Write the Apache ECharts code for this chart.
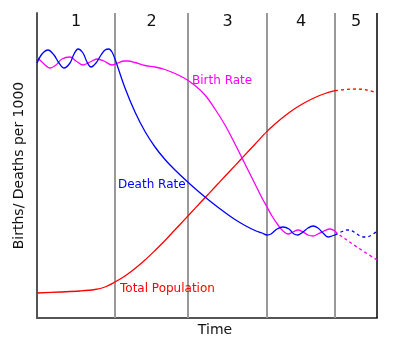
<!DOCTYPE html>
<html>
<head>
<meta charset="utf-8">
<script src="https://cdn.jsdelivr.net/npm/echarts@6/dist/echarts.min.js"></script>
<style>html,body{margin:0;padding:0;background:#fff}#c{width:400px;height:342px}</style>
</head>
<body>
<div id="c"></div>
<script>
// Stage boundaries along the time axis and their labels
var stageBounds = [0, 78, 151, 230, 298, 340];
var stageLabels = ['1', '2', '3', '4', '5'];

// Death rate (solid part, stages 1-4)
var deathRate = [[0,255],[5,264],[11,268],[17,263],[22,255],[27,250],[33,255],[37,264],[41,269],[46,265],[50,256],[54,251],[59,255],[64,263],[68,268],[72,269],[75,266],[78,259],[88,230],[98,206],[108,186.5],[118,171],[128,158.5],[138,148],[148,138.5],[158,129.5],[168,121],[178,113],[188,105.5],[198,98.5],[208,92.5],[218,87.5],[225,85],[230,83],[234,84],[240,89],[246,91],[252,89],[257,84],[261,83],[266,86],[271,90],[276,92],[281,90],[286,85],[291,81],[295,82],[298,83]];
// Death rate (projected, stage 5)
var deathRateProj = [[298,83],[304,86],[311,88],[317,86],[323,82],[328,81],[333,82],[339,86]];

// Birth rate (solid part)
var birthRate = [[0,261],[6,255],[13,250],[19,253],[25,259],[33,261],[39,257],[46,253],[53,256],[60,259],[67,257],[75,253],[81,255],[87,257],[91,257],[98,255.5],[108,252.5],[118,251],[128,248.5],[138,244.5],[148,239.5],[158,232.5],[168,223],[178,209],[188,193],[198,174],[208,154],[218,134],[225,120],[230,111],[235,102],[241,93],[246,87],[251,84],[256,86],[261,88],[266,86],[271,83],[276,82],[281,84],[287,87],[293,89],[298,87]];
// Birth rate (projected, stage 5)
var birthRateProj = [[298,87],[300,85],[320,71],[340,58]];

// Total population
var population = [[0,25],[23,26],[43,27],[58,28.5],[68,31],[78,36],[88,42],[98,49.5],[108,58],[118,67.5],[128,77.5],[138,88.2],[148,98.9],[158,109.6],[168,120.3],[178,131],[188,141.7],[198,152.4],[208,163.1],[218,173.8],[230,186.6],[238,194],[248,202.3],[258,209.5],[268,215.5],[278,220.5],[288,224.5],[298,227.3]];
// Total population (projected, stage 5)
var populationProj = [[298,227.3],[308,228.5],[320,229],[330,228],[340,225]];

var seriesNames = ['Death Rate', 'Birth Rate', 'Total Population'];
var FONT = 'DejaVu Sans';

var stageMarks = stageLabels.map(function (s, i) {
  return { coord: [(stageBounds[i] + stageBounds[i + 1]) / 2, 296], name: s };
});
var dividers = stageBounds.slice(1, 5).map(function (b) { return { xAxis: b }; });

function lineSeries(data, color, dashed, labelName, labelCoord) {
  var s = {
    type: 'line', data: data, smooth: 0.35, showSymbol: false, symbol: 'none',
    lineStyle: { color: color, width: 1.3, type: dashed ? [3, 3] : 'solid' },
    z: 5
  };
  if (labelName) {
    s.markPoint = {
      symbol: 'circle', symbolSize: 0, silent: true,
      data: [{ coord: labelCoord, name: labelName }],
      label: { show: true, formatter: '{b}', position: 'right', distance: 0, color: color, fontFamily: FONT, fontSize: 12 }
    };
  }
  return s;
}

var chart = echarts.init(document.getElementById('c'), null, { renderer: 'canvas' });
chart.setOption({
  animation: false,
  grid: { left: 37, right: 23, top: 13, bottom: 24, containLabel: false, outerBoundsMode: 'none' },
  xAxis: {
    type: 'value', min: 0, max: 340,
    name: 'Time', nameLocation: 'middle', nameGap: 5,
    nameTextStyle: { fontFamily: FONT, fontSize: 14, color: '#111', padding: [0, 0, 0, 16] },
    axisLine: { show: true, lineStyle: { color: '#555', width: 2 } },
    axisTick: { show: false }, axisLabel: { show: false }, splitLine: { show: false }
  },
  yAxis: {
    type: 'value', min: 0, max: 305,
    name: 'Births/ Deaths per 1000', nameLocation: 'middle', nameGap: 11,
    nameTextStyle: { fontFamily: FONT, fontSize: 14, color: '#111' },
    axisLine: { show: true, lineStyle: { color: '#555', width: 2 } },
    axisTick: { show: false }, axisLabel: { show: false }, splitLine: { show: false }
  },
  series: [
    {
      type: 'line', data: [], silent: true, z: 2,
      markLine: {
        symbol: ['none', 'none'], silent: true, animation: false,
        label: { show: false },
        data: dividers.concat([{ xAxis: stageBounds[5], lineStyle: { color: '#000', width: 1.5 } }]),
        lineStyle: { color: '#999', width: 2, type: 'solid' }
      },
      markPoint: {
        symbol: 'circle', symbolSize: 0, silent: true,
        data: stageMarks,
        label: { show: true, formatter: '{b}', position: 'inside', color: '#111', fontFamily: FONT, fontSize: 16 }
      }
    },
    lineSeries(population, '#ff0000', false, seriesNames[2], [83, 29]),
    lineSeries(populationProj, '#ff0000', true),
    lineSeries(birthRate, '#ff00ff', false, seriesNames[1], [155, 237]),
    lineSeries(birthRateProj, '#ff00ff', true),
    lineSeries(deathRate, '#0000ff', false, seriesNames[0], [81, 133]),
    lineSeries(deathRateProj, '#0000ff', true)
  ]
});
</script>
</body>
</html>
